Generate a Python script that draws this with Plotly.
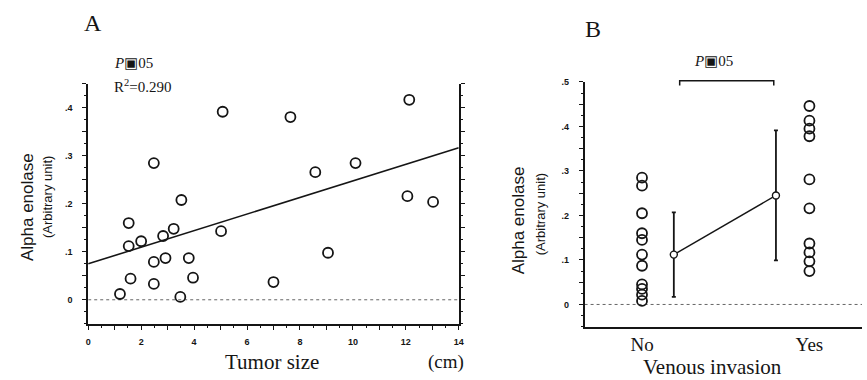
import plotly.graph_objects as go

# ---------------- data ----------------
# Panel A: tumor size (cm) vs alpha enolase
tumor_size = [1.2, 1.53, 1.53, 1.6, 2.0, 2.48, 2.48, 2.83, 2.92, 3.23, 3.52, 3.48, 3.8, 3.96,
              5.02, 7.0, 2.48, 5.08, 7.64, 8.58, 10.1, 12.13, 12.06, 13.03, 9.06]
enolase_a = [0.012, 0.160, 0.112, 0.044, 0.122, 0.079, 0.033, 0.133, 0.087, 0.148, 0.208, 0.006,
             0.087, 0.046, 0.143, 0.037, 0.285, 0.392, 0.381, 0.266, 0.285, 0.417, 0.216, 0.204, 0.098]
fit_x = [0, 14]
fit_y = [0.075, 0.317]

# Panel B: venous invasion groups
group_labels = ["No", "Yes"]
group_pos = [0, 1]
no_vals = [0.285, 0.267, 0.205, 0.160, 0.145, 0.112, 0.087, 0.045, 0.035, 0.022, 0.008]
yes_vals = [0.446, 0.413, 0.395, 0.378, 0.281, 0.216, 0.137, 0.117, 0.097, 0.075]
mean_pos = [0.19, 0.80]
mean_vals = [0.112, 0.245]
mean_err = [0.095, 0.146]

a_xtick_vals = list(range(0, 15))
a_xtick_text = [str(v) if v % 2 == 0 else " " for v in a_xtick_vals]
a_ytick_vals = [0, 0.05, 0.1, 0.15, 0.2, 0.25, 0.3, 0.35, 0.4, 0.45]
a_ytick_text = ["0", " ", ".1", " ", ".2", " ", ".3", " ", ".4", " "]
b_ytick_vals = [0, 0.05, 0.1, 0.15, 0.2, 0.25, 0.3, 0.35, 0.4, 0.45, 0.5]
b_ytick_text = ["0", " ", ".1", " ", ".2", " ", ".3", " ", ".4", " ", ".5"]

A_XR = [0, 14]
A_YR = [-0.05, 0.45]
B_XR = [-0.343, 1.314]
B_YR = [-0.05, 0.5]

W, H = 867, 380
A_XD = [86 / W, 460 / W]
A_YD = [(H - 323) / H, (H - 80) / H]
B_XD = [587 / W, 1.0]
B_YD = [(H - 326) / H, (H - 78) / H]

INK = "#151515"
SERIF = "Liberation Serif, Times New Roman, serif"
SANS = "Liberation Sans, Arial, sans-serif"

fig = go.Figure()

# Panel A
fig.add_trace(go.Scatter(x=A_XR, y=[0, 0], mode="lines",
                         line=dict(color="#666", width=1, dash="dot"),
                         xaxis="x", yaxis="y", hoverinfo="skip"))
fig.add_trace(go.Scatter(x=fit_x, y=fit_y, mode="lines",
                         line=dict(color=INK, width=1.6), xaxis="x", yaxis="y"))
fig.add_trace(go.Scatter(x=tumor_size, y=enolase_a, mode="markers",
                         marker=dict(symbol="circle-open", size=10, color=INK,
                                     line=dict(width=1.8, color=INK)),
                         xaxis="x", yaxis="y"))

# Panel B
fig.add_trace(go.Scatter(x=B_XR, y=[0, 0], mode="lines",
                         line=dict(color="#666", width=1, dash="dot"),
                         xaxis="x2", yaxis="y2", hoverinfo="skip"))
fig.add_trace(go.Scatter(x=[group_pos[0]] * len(no_vals), y=no_vals, mode="markers",
                         marker=dict(symbol="circle-open", size=10, color=INK,
                                     line=dict(width=1.8, color=INK)),
                         xaxis="x2", yaxis="y2"))
fig.add_trace(go.Scatter(x=[group_pos[1]] * len(yes_vals), y=yes_vals, mode="markers",
                         marker=dict(symbol="circle-open", size=10, color=INK,
                                     line=dict(width=1.8, color=INK)),
                         xaxis="x2", yaxis="y2"))
fig.add_trace(go.Scatter(x=mean_pos, y=mean_vals, mode="lines+markers",
                         line=dict(color=INK, width=1.4),
                         marker=dict(symbol="circle", size=7, color="white",
                                     line=dict(width=1.4, color=INK)),
                         error_y=dict(type="data", array=mean_err, visible=True,
                                      color=INK, thickness=1.8, width=2),
                         xaxis="x2", yaxis="y2"))

tickfont = dict(family=SANS, size=9, color=INK, weight="bold")
common_ax = dict(showgrid=False, zeroline=False, showline=True, linecolor=INK,
                 linewidth=1.6, ticks="outside", tickcolor=INK, tickwidth=1.2,
                 ticklen=4, tickfont=tickfont, fixedrange=True)

fig.update_layout(
    width=W, height=H, margin=dict(l=0, r=0, t=0, b=0),
    paper_bgcolor="white", plot_bgcolor="white", showlegend=False,
    xaxis=dict(domain=A_XD, range=A_XR, anchor="y", tickmode="array",
               tickvals=a_xtick_vals, ticktext=a_xtick_text,
               minor=dict(dtick=0.5, ticks="outside", ticklen=2, tickcolor=INK),
               ticklabelstandoff=5, **common_ax),
    yaxis=dict(domain=A_YD, range=A_YR, anchor="x", tickmode="array",
               tickvals=a_ytick_vals, ticktext=a_ytick_text, mirror="ticks",
               minor=dict(dtick=0.025, ticks="outside", ticklen=2, tickcolor=INK),
               ticklabelstandoff=8, **common_ax),
    xaxis2=dict(domain=B_XD, range=B_XR, anchor="y2", tickmode="array",
                tickvals=group_pos, ticktext=group_labels,
                **{**common_ax, "ticks": "", "tickfont": dict(family=SERIF, size=19, color=INK)}),
    yaxis2=dict(domain=B_YD, range=B_YR, anchor="x2", tickmode="array",
                tickvals=b_ytick_vals, ticktext=b_ytick_text,
                minor=dict(dtick=0.025, ticks="outside", ticklen=2, tickcolor=INK),
                ticklabelstandoff=8, **common_ax),
)


def to_paper(v, rng, dom):
    return dom[0] + (v - rng[0]) / (rng[1] - rng[0]) * (dom[1] - dom[0])


def px(xp, yp):
    return xp / W, 1 - yp / H


ann = []
def add_text(text, xp, yp, size, family=SERIF, xanchor="center", angle=0):
    x, y = px(xp, yp)
    ann.append(dict(text=text, x=x, y=y, xref="paper", yref="paper", xanchor=xanchor,
                    yanchor="middle", showarrow=False, textangle=angle,
                    font=dict(family=family, size=size, color=INK)))

add_text("A", 91, 18, 24)
add_text("B", 595, 24, 24)
add_text("<i>P</i>\u25a305", 110, 59, 15, xanchor="left")
add_text("R<sup>2</sup>=0.290", 110, 82, 15, xanchor="left")
add_text("Alpha enolase", 25, 205, 17, family=SANS, angle=-90)
add_text("(Arbitrary unit)", 45, 195, 13, family=SANS, angle=-90)
add_text("Alpha enolase", 520, 218, 17, family=SANS, angle=-90)
add_text("(Arbitrary unit)", 542, 212, 13, family=SANS, angle=-90)
add_text("Tumor size", 272, 362, 21)
add_text("(cm)", 447, 362, 19)
add_text("Venous invasion", 716, 367, 21)
add_text("<i>P</i>\u25a305", 717, 57, 15)
fig.update_layout(annotations=ann)

# significance bracket for panel B
bx = [0.225, 0.787]
by_top, by_end = 0.503, 0.492
x0 = to_paper(bx[0], B_XR, B_XD)
x1 = to_paper(bx[1], B_XR, B_XD)
yt = to_paper(by_top, B_YR, B_YD)
ye = to_paper(by_end, B_YR, B_YD)
fig.add_shape(type="path", xref="paper", yref="paper",
              path=f"M{x0},{ye} L{x0},{yt} L{x1},{yt} L{x1},{ye}",
              line=dict(color=INK, width=1.5))

fig.write_html("out.html")
